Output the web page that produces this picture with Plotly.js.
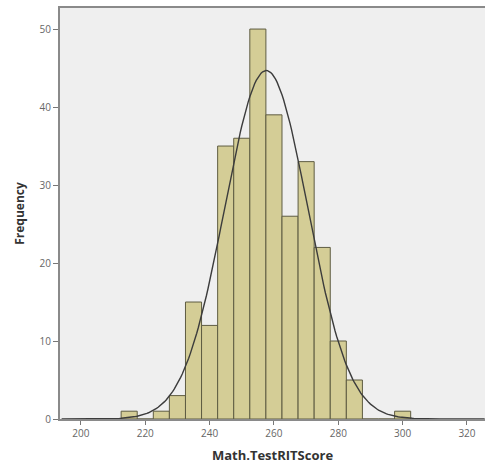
<!DOCTYPE html>
<html>
<head>
<meta charset="utf-8">
<script src="https://cdn.plot.ly/plotly-3.0.1.min.js"></script>
<style>html,body{margin:0;padding:0;background:#fff;}#chart{width:485px;height:465px;}</style>
</head>
<body>
<div id="chart"></div>
<script>
// Histogram bin centres (bin width 5) and counts
const binCenters = [215, 220, 225, 230, 235, 240, 245, 250, 255, 260, 265, 270, 275, 280, 285, 290, 295, 300];
const counts     = [1,   0,   1,   3,   15,  12,  35,  36,  50,  39,  26,  33,  22,  10,  5,   0,   0,   1];
const binWidth = 5;
// Fitted normal curve parameters (as shown by the overlay)
const fitMean = 257.6;
const fitSD = 12.9;
const fitN = 289;
const xTickVals = [200, 220, 240, 260, 280, 300, 320];
const yTickVals = [0, 10, 20, 30, 40, 50];

const curveX = [], curveY = [];
for (let x = 194; x <= 325.5; x += 0.5) {
  curveX.push(x);
  const z = (x - fitMean) / fitSD;
  curveY.push(fitN * binWidth / (fitSD * Math.sqrt(2 * Math.PI)) * Math.exp(-0.5 * z * z));
}

const traces = [
  {
    type: 'bar', x: binCenters, y: counts, width: binWidth,
    marker: {color: '#d4cd96', line: {color: '#5e5c42', width: 1}},
    hoverinfo: 'x+y'
  },
  {
    type: 'scatter', mode: 'lines', x: curveX, y: curveY,
    line: {color: '#3c3c3c', width: 1.4}, hoverinfo: 'skip'
  }
];

const layout = {
  width: 485, height: 465,
  margin: {l: 60, r: 0, t: 8, b: 46},
  paper_bgcolor: '#ffffff', plot_bgcolor: '#efefef',
  showlegend: false, bargap: 0,
  font: {family: 'Open Sans, DejaVu Sans, sans-serif', color: '#555'},
  xaxis: {
    range: [193.5, 325.6], tickvals: xTickVals, ticktext: xTickVals.map(String),
    showgrid: false, zeroline: false,
    showline: true, linecolor: '#8a8a8a', linewidth: 2, mirror: true,
    ticks: 'outside', ticklen: 4, tickcolor: '#777', tickwidth: 1,
    tickfont: {size: 10, color: '#666'},
    title: {text: '<b>Math.TestRITScore</b>', font: {size: 13, color: '#333'}, standoff: 12}
  },
  yaxis: {
    range: [0, 52.7], tickvals: yTickVals, ticktext: yTickVals.map(String),
    showgrid: false, zeroline: false,
    showline: true, linecolor: '#8a8a8a', linewidth: 2,
    ticks: 'outside', ticklen: 5, tickcolor: '#777', tickwidth: 1,
    tickfont: {size: 10, color: '#666'},
    title: {text: '<b>Frequency</b>', font: {size: 12, color: '#333'}, standoff: 12}
  }
};

Plotly.newPlot('chart', traces, layout, {displayModeBar: false, staticPlot: true});
</script>
</body>
</html>
